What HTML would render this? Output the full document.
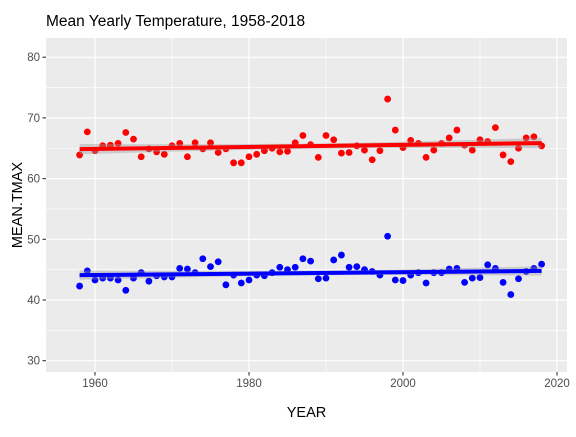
<!DOCTYPE html>
<html><head><meta charset="utf-8"><style>
body{margin:0;background:#fff;font-family:"Liberation Sans",sans-serif}
</style></head><body>
<svg id="c" width="576" height="432" xmlns="http://www.w3.org/2000/svg"></svg>
<script>
const years=[];for(let y=1958;y<=2018;y++)years.push(y);
const redVals=[63.9,67.7,64.6,65.4,65.5,65.8,67.6,66.5,63.6,64.9,64.4,64.0,65.4,65.8,63.6,65.9,64.9,65.9,64.3,64.9,62.6,62.6,63.6,64.0,64.6,65.0,64.4,64.5,65.9,67.1,65.6,63.5,67.1,66.4,64.2,64.3,65.4,64.7,63.1,64.6,73.1,68.0,65.1,66.3,65.8,63.5,64.7,65.8,66.7,68.0,65.5,64.7,66.4,66.1,68.4,63.9,62.8,65.0,66.7,66.9,65.4];
const blueVals=[42.3,44.8,43.3,43.6,43.6,43.3,41.6,43.6,44.5,43.1,44.0,43.8,43.8,45.2,45.1,44.5,46.8,45.5,46.3,42.5,44.1,42.8,43.3,44.1,44.0,44.5,45.4,45.0,45.4,46.8,46.4,43.5,43.6,46.6,47.4,45.4,45.5,45.0,44.7,44.1,50.5,43.3,43.2,44.1,44.5,42.8,44.5,44.5,45.1,45.2,42.9,43.6,43.7,45.8,45.2,42.9,40.9,43.5,44.7,45.2,45.9];
const xTicks=[1960,1980,2000,2020];
const yTicks=[30,40,50,60,70,80];
const P={l:46,r:567,t:38,b:372};
const X=v=>95+(v-1960)*7.7;
const Y=v=>300-(v-40)*6.07;
const svg=document.getElementById('c');
const NS='http://www.w3.org/2000/svg';
function mk(tag,attrs,parent){const e=document.createElementNS(NS,tag);for(const k in attrs)e.setAttribute(k,attrs[k]);(parent||svg).appendChild(e);return e;}
const bg=mk('rect',{x:P.l,y:P.t,width:P.r-P.l,height:P.b-P.t,fill:'#ebebeb'});


// minor grid
for(let v=1950;v<=2030;v+=20){const x=X(v);if(x>P.l&&x<P.r){const l=mk('line',{x1:x,x2:x,y1:P.t,y2:P.b,stroke:'#fff','stroke-width':0.6});}}
for(let v=25;v<=85;v+=10){const y=Y(v);if(y>P.t&&y<P.b){const l=mk('line',{x1:P.l,x2:P.r,y1:y,y2:y,stroke:'#fff','stroke-width':0.6});}}
xTicks.forEach(v=>{const x=X(v);const l=mk('line',{x1:x,x2:x,y1:P.t,y2:P.b,stroke:'#fff','stroke-width':1.2});
const t=mk('line',{x1:x,x2:x,y1:P.b,y2:P.b+3.5,stroke:'#333','stroke-width':1.1});
const tx=mk('text',{x:x,y:P.b+15,'text-anchor':'middle','font-size':'11.5',fill:'#4d4d4d'});tx.textContent=v;});
yTicks.forEach(v=>{const y=Y(v);const l=mk('line',{x1:P.l,x2:P.r,y1:y,y2:y,stroke:'#fff','stroke-width':1.2});
const t=mk('line',{x1:P.l-3.5,x2:P.l,y1:y,y2:y,stroke:'#333','stroke-width':1.1});
const tx=mk('text',{x:P.l-6,y:y+4,'text-anchor':'end','font-size':'11.5',fill:'#4d4d4d'});tx.textContent=v;});
function series(vals,color,name){
  vals.forEach((v,i)=>{const c=mk('circle',{cx:X(years[i]),cy:Y(v),r:3.4,fill:color});});
  const n=vals.length,mx=years.reduce((a,b)=>a+b)/n,my=vals.reduce((a,b)=>a+b)/n;
  let sxx=0,sxy=0;years.forEach((x,i)=>{sxx+=(x-mx)**2;sxy+=(x-mx)*(vals[i]-my);});
  const b=sxy/sxx,a=my-b*mx;let sse=0;years.forEach((x,i)=>{sse+=(vals[i]-a-b*x)**2;});
  const s=Math.sqrt(sse/(n-2));let up=[],lo=[];
  for(let k=0;k<=40;k++){const x=1958+k*60/40;const f=a+b*x;const se=2*s*Math.sqrt(1/n+(x-mx)**2/sxx);up.push(X(x)+','+Y(f+se));lo.unshift(X(x)+','+Y(f-se));}
  const band=mk('polygon',{points:up.concat(lo).join(' '),fill:'#999','fill-opacity':0.4});
  const ln=mk('line',{x1:X(1958),y1:Y(a+b*1958),x2:X(2018),y2:Y(a+b*2018),stroke:color,'stroke-width':4});
}
series(redVals,'#ff0000','max-temp');
series(blueVals,'#0000ff','min-temp');
const tt=mk('text',{x:P.l,y:26,'font-size':'15.5',fill:'#000'});tt.textContent='Mean Yearly Temperature, 1958-2018';
const xt=mk('text',{x:(P.l+P.r)/2,y:417,'text-anchor':'middle','font-size':'14.5',fill:'#000'});xt.textContent='YEAR';
const yt=mk('text',{x:0,y:0,'text-anchor':'middle','font-size':'14.5',fill:'#000',transform:`translate(22,${(P.t+P.b)/2}) rotate(-90)`});yt.textContent='MEAN.TMAX';
</script>
</body></html>
